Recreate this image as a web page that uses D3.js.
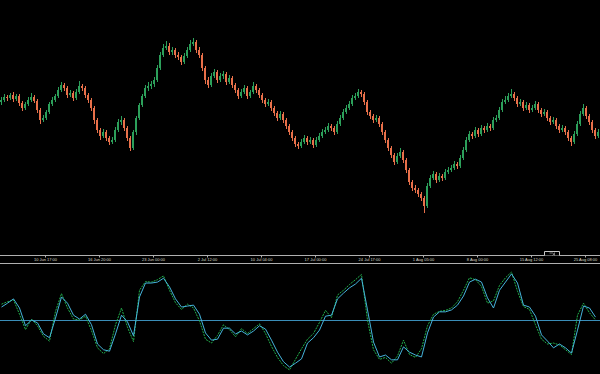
<!DOCTYPE html>
<html><head><meta charset="utf-8">
<script src="https://cdn.jsdelivr.net/npm/d3@7"></script>
<style>html,body{margin:0;padding:0;background:#000;}svg{display:block;}</style>
</head><body>
<svg id="c" width="600" height="374"></svg>
<script>
// Price bars (H4-style), quoted prices
const open = [1.1196,1.1200,1.1206,1.1204,1.1210,1.1202,1.1208,1.1194,1.1184,1.1192,1.1200,1.1206,1.1198,1.1180,1.1160,1.1164,1.1176,1.1192,1.1200,1.1208,
1.1220,1.1230,1.1224,1.1210,1.1214,1.1204,1.1216,1.1228,1.1224,1.1210,1.1200,1.1184,1.1160,1.1140,1.1128,1.1136,1.1124,1.1116,1.1120,1.1140,
1.1156,1.1160,1.1144,1.1124,1.1104,1.1136,1.1164,1.1190,1.1208,1.1224,1.1228,1.1232,1.1240,1.1264,1.1290,1.1304,1.1308,1.1296,1.1300,1.1290,
1.1286,1.1276,1.1288,1.1300,1.1312,1.1316,1.1300,1.1290,1.1264,1.1240,1.1230,1.1248,1.1256,1.1240,1.1248,1.1252,1.1236,1.1244,1.1230,1.1220,
1.1208,1.1216,1.1224,1.1208,1.1216,1.1228,1.1220,1.1210,1.1200,1.1192,1.1196,1.1184,1.1174,1.1164,1.1172,1.1160,1.1148,1.1136,1.1124,1.1112,
1.1108,1.1116,1.1124,1.1116,1.1120,1.1110,1.1120,1.1128,1.1136,1.1140,1.1148,1.1144,1.1136,1.1152,1.1164,1.1176,1.1184,1.1192,1.1204,1.1208,
1.1216,1.1212,1.1196,1.1176,1.1168,1.1160,1.1164,1.1152,1.1136,1.1120,1.1104,1.1090,1.1076,1.1088,1.1096,1.1080,1.1060,1.1036,1.1024,1.1020,
1.1012,1.1004,1.0988,1.1028,1.1044,1.1052,1.1040,1.1048,1.1044,1.1056,1.1060,1.1064,1.1072,1.1068,1.1084,1.1100,1.1120,1.1132,1.1128,1.1140,
1.1132,1.1144,1.1140,1.1148,1.1144,1.1160,1.1164,1.1180,1.1196,1.1200,1.1208,1.1212,1.1204,1.1192,1.1196,1.1184,1.1190,1.1180,1.1184,1.1192,
1.1180,1.1172,1.1176,1.1164,1.1156,1.1160,1.1148,1.1140,1.1144,1.1136,1.1124,1.1116,1.1132,1.1152,1.1172,1.1184,1.1168,1.1156,1.1140,1.1128];
const high = [1.1206,1.1212,1.1210,1.1214,1.1216,1.1212,1.1212,1.1198,1.1196,1.1206,1.1214,1.1210,1.1202,1.1184,1.1170,1.1180,1.1196,1.1206,1.1212,1.1226,
1.1236,1.1234,1.1228,1.1220,1.1218,1.1222,1.1238,1.1232,1.1228,1.1214,1.1204,1.1188,1.1164,1.1144,1.1142,1.1140,1.1128,1.1126,1.1146,1.1162,
1.1168,1.1164,1.1148,1.1128,1.1140,1.1168,1.1194,1.1212,1.1230,1.1236,1.1238,1.1246,1.1270,1.1296,1.1312,1.1318,1.1314,1.1306,1.1304,1.1296,
1.1290,1.1294,1.1306,1.1320,1.1324,1.1320,1.1306,1.1294,1.1268,1.1246,1.1254,1.1262,1.1260,1.1254,1.1258,1.1256,1.1250,1.1248,1.1234,1.1224,
1.1222,1.1230,1.1228,1.1220,1.1236,1.1232,1.1224,1.1214,1.1204,1.1202,1.1200,1.1188,1.1178,1.1178,1.1176,1.1164,1.1152,1.1140,1.1128,1.1116,
1.1122,1.1130,1.1128,1.1126,1.1124,1.1126,1.1134,1.1142,1.1146,1.1154,1.1152,1.1148,1.1158,1.1170,1.1182,1.1190,1.1198,1.1210,1.1214,1.1222,
1.1220,1.1216,1.1200,1.1180,1.1172,1.1170,1.1168,1.1156,1.1140,1.1124,1.1108,1.1094,1.1094,1.1104,1.1100,1.1084,1.1064,1.1040,1.1030,1.1024,
1.1016,1.1008,1.1034,1.1050,1.1058,1.1056,1.1054,1.1052,1.1062,1.1066,1.1070,1.1078,1.1076,1.1090,1.1106,1.1126,1.1138,1.1136,1.1146,1.1144,
1.1150,1.1148,1.1154,1.1152,1.1166,1.1170,1.1186,1.1202,1.1208,1.1214,1.1222,1.1216,1.1208,1.1202,1.1200,1.1196,1.1194,1.1190,1.1198,1.1196,
1.1184,1.1182,1.1180,1.1168,1.1166,1.1164,1.1152,1.1150,1.1148,1.1140,1.1128,1.1138,1.1158,1.1178,1.1192,1.1188,1.1172,1.1160,1.1144,1.1142];
const low = [1.1190,1.1196,1.1198,1.1200,1.1196,1.1198,1.1188,1.1178,1.1180,1.1188,1.1196,1.1194,1.1174,1.1152,1.1156,1.1160,1.1172,1.1188,1.1196,1.1204,
1.1216,1.1218,1.1204,1.1206,1.1198,1.1200,1.1212,1.1218,1.1204,1.1194,1.1178,1.1152,1.1134,1.1120,1.1124,1.1118,1.1110,1.1112,1.1116,1.1136,
1.1150,1.1138,1.1118,1.1098,1.1100,1.1130,1.1160,1.1186,1.1204,1.1218,1.1222,1.1226,1.1236,1.1260,1.1286,1.1300,1.1290,1.1290,1.1284,1.1280,
1.1270,1.1272,1.1284,1.1296,1.1308,1.1294,1.1284,1.1258,1.1232,1.1224,1.1226,1.1244,1.1234,1.1236,1.1242,1.1230,1.1232,1.1224,1.1214,1.1202,
1.1204,1.1212,1.1202,1.1204,1.1212,1.1214,1.1204,1.1194,1.1186,1.1188,1.1178,1.1168,1.1158,1.1160,1.1154,1.1142,1.1130,1.1118,1.1106,1.1102,
1.1104,1.1112,1.1110,1.1112,1.1104,1.1106,1.1116,1.1124,1.1132,1.1136,1.1138,1.1130,1.1132,1.1148,1.1160,1.1172,1.1180,1.1188,1.1200,1.1204,
1.1206,1.1190,1.1170,1.1162,1.1154,1.1156,1.1146,1.1130,1.1114,1.1098,1.1084,1.1070,1.1072,1.1084,1.1074,1.1054,1.1030,1.1018,1.1014,1.1006,
1.0998,1.0974,1.0984,1.1024,1.1040,1.1034,1.1036,1.1038,1.1040,1.1052,1.1056,1.1060,1.1062,1.1064,1.1080,1.1096,1.1116,1.1122,1.1124,1.1126,
1.1128,1.1134,1.1136,1.1138,1.1140,1.1156,1.1160,1.1176,1.1192,1.1196,1.1204,1.1198,1.1186,1.1188,1.1178,1.1180,1.1174,1.1176,1.1180,1.1174,
1.1166,1.1168,1.1158,1.1150,1.1152,1.1142,1.1134,1.1136,1.1130,1.1118,1.1108,1.1112,1.1128,1.1148,1.1168,1.1162,1.1150,1.1134,1.1122,1.1124];
const close = [1.1200,1.1206,1.1204,1.1210,1.1202,1.1208,1.1194,1.1184,1.1192,1.1200,1.1206,1.1198,1.1180,1.1160,1.1164,1.1176,1.1192,1.1200,1.1208,1.1220,
1.1230,1.1224,1.1210,1.1214,1.1204,1.1216,1.1228,1.1224,1.1210,1.1200,1.1184,1.1160,1.1140,1.1128,1.1136,1.1124,1.1116,1.1120,1.1140,1.1156,
1.1160,1.1144,1.1124,1.1104,1.1136,1.1164,1.1190,1.1208,1.1224,1.1228,1.1232,1.1240,1.1264,1.1290,1.1304,1.1308,1.1296,1.1300,1.1290,1.1286,
1.1276,1.1288,1.1300,1.1312,1.1316,1.1300,1.1290,1.1264,1.1240,1.1230,1.1248,1.1256,1.1240,1.1248,1.1252,1.1236,1.1244,1.1230,1.1220,1.1208,
1.1216,1.1224,1.1208,1.1216,1.1228,1.1220,1.1210,1.1200,1.1192,1.1196,1.1184,1.1174,1.1164,1.1172,1.1160,1.1148,1.1136,1.1124,1.1112,1.1108,
1.1116,1.1124,1.1116,1.1120,1.1110,1.1120,1.1128,1.1136,1.1140,1.1148,1.1144,1.1136,1.1152,1.1164,1.1176,1.1184,1.1192,1.1204,1.1208,1.1216,
1.1212,1.1196,1.1176,1.1168,1.1160,1.1164,1.1152,1.1136,1.1120,1.1104,1.1090,1.1076,1.1088,1.1096,1.1080,1.1060,1.1036,1.1024,1.1020,1.1012,
1.1004,1.0988,1.1028,1.1044,1.1052,1.1040,1.1048,1.1044,1.1056,1.1060,1.1064,1.1072,1.1068,1.1084,1.1100,1.1120,1.1132,1.1128,1.1140,1.1132,
1.1144,1.1140,1.1148,1.1144,1.1160,1.1164,1.1180,1.1196,1.1200,1.1208,1.1212,1.1204,1.1192,1.1196,1.1184,1.1190,1.1180,1.1184,1.1192,1.1180,
1.1172,1.1176,1.1164,1.1156,1.1160,1.1148,1.1140,1.1144,1.1136,1.1124,1.1116,1.1132,1.1152,1.1172,1.1184,1.1168,1.1156,1.1140,1.1128,1.1136];

// Oscillator, sampled every second bar
const oscMain = [27,35,44,25,-12,0,-6,-29,-37,4,48,35,10,2,12,-10,-50,-62,-65,-29,
10,-4,-33,48,77,77,79,87,69,44,27,29,31,12,-27,-42,-40,-17,-17,-29,
-23,-31,-23,-12,-19,-42,-67,-87,-98,-90,-81,-48,-37,-21,8,10,44,56,67,75,
87,21,-46,-77,-73,-83,-83,-56,-67,-73,-77,-27,6,17,17,21,31,50,79,85,
79,46,25,62,79,96,77,31,27,8,-31,-44,-58,-50,-58,-69,-21,29,25,6];
const oscSignal = [33,38,42,12,-20,2,-12,-34,-44,18,55,25,2,0,8,-22,-58,-70,-60,-10,
25,-15,-45,62,80,79,84,92,62,36,22,33,25,-2,-40,-48,-32,-10,-20,-35,
-18,-28,-18,-8,-28,-55,-78,-95,-104,-82,-60,-40,-28,-5,20,5,52,62,74,84,
95,0,-62,-82,-78,-90,-75,-42,-72,-78,-60,-12,12,18,20,25,38,62,88,84,
70,35,40,72,88,100,60,28,22,-10,-40,-50,-48,-52,-62,-72,10,35,15,0];
const oscLevel = 0;

// Time axis labels at bar positions
const tickBars = [15,33,51,69,87,105,123,141,159,177,195];
const tickLabels = ["10 Jun 17:00","16 Jun 20:00","23 Jun 00:00","2 Jul 12:00","10 Jul 04:00","17 Jul 00:00","24 Jul 17:00","1 Aug 05:00","8 Aug 00:00","15 Aug 12:00","25 Aug 08:00"];

const svg = d3.select("#c");
const W = 600;
svg.append("rect").attr("width",W).attr("height",374).attr("fill","#000");

const nBars = close.length;
const x = d3.scaleLinear().domain([0, nBars]).range([0, W]);
const y = d3.scaleLinear().domain([1.0900, 1.1400]).range([250, 0]);
const yo = d3.scaleLinear().domain([-100, 100]).range([368, 272]);

const UP = "#2c9f5a", DN = "#e8704a";
const bars = d3.range(nBars).map(i => ({i, o: open[i], h: high[i], l: low[i], c: close[i]}));

const g = svg.append("g");
g.selectAll("line.w").data(bars).join("line")
  .attr("x1", d => x(d.i + 0.5)).attr("x2", d => x(d.i + 0.5))
  .attr("y1", d => y(d.h)).attr("y2", d => y(d.l))
  .attr("stroke", d => d.c >= d.o ? UP : DN).attr("stroke-width", 1);
g.selectAll("rect.b").data(bars).join("rect")
  .attr("x", d => x(d.i + 0.5) - 1.5).attr("width", 2)
  .attr("y", d => y(Math.max(d.o, d.c)))
  .attr("height", d => Math.max(1, Math.abs(y(d.o) - y(d.c))))
  .attr("fill", d => d.c >= d.o ? UP : DN);

// Time scale strip
const axisTop = 255.5, axisBot = 263.5;
svg.append("line").attr("x1",0).attr("x2",W).attr("y1",axisTop).attr("y2",axisTop).attr("stroke","#b0b0b0");
svg.append("line").attr("x1",0).attr("x2",W).attr("y1",axisBot).attr("y2",axisBot).attr("stroke","#b0b0b0");
const tg = svg.append("g");
tickBars.forEach((b, k) => {
  const tx = Math.round(x(b)) + 0.5;
  tg.append("line").attr("x1",tx).attr("x2",tx).attr("y1",axisTop).attr("y2",axisTop+2).attr("stroke","#b0b0b0");
  tg.append("text").attr("x", tx).attr("y", 261.3).attr("text-anchor","middle")
    .attr("font-family","Liberation Sans, Arial, sans-serif").attr("font-size", 4)
    .attr("fill","#d8d8c8").text(tickLabels[k]);
});
// chart shift marker
svg.append("path").attr("d","M544.5,255.5 V251.5 H559.5 V255.5").attr("fill","#000").attr("stroke","#c8c8c8");
svg.append("path").attr("d","M549.5,253 h3 l1.5,1.2 l-1.5,1.2 M554.5,252.5 v3").attr("fill","none").attr("stroke","#c8c8c8").attr("stroke-width",0.6);

// Oscillator subwindow
const og = svg.append("g");
og.append("line").attr("x1",0).attr("x2",W).attr("y1",Math.round(yo(oscLevel))+0.5).attr("y2",Math.round(yo(oscLevel))+0.5)
  .attr("stroke","#3a8db8").attr("stroke-width",1);
const lineGen = d3.line().x((d, k) => x(2*k + 0.5)).y(d => yo(d)).curve(d3.curveLinear);
og.append("path").datum(oscSignal).attr("d", lineGen).attr("fill","none")
  .attr("stroke","#22b14c").attr("stroke-width",1).attr("stroke-dasharray","2,1");
og.append("path").datum(oscMain).attr("d", lineGen).attr("fill","none")
  .attr("stroke","#45b4dc").attr("stroke-width",1);
</script>
</body></html>
